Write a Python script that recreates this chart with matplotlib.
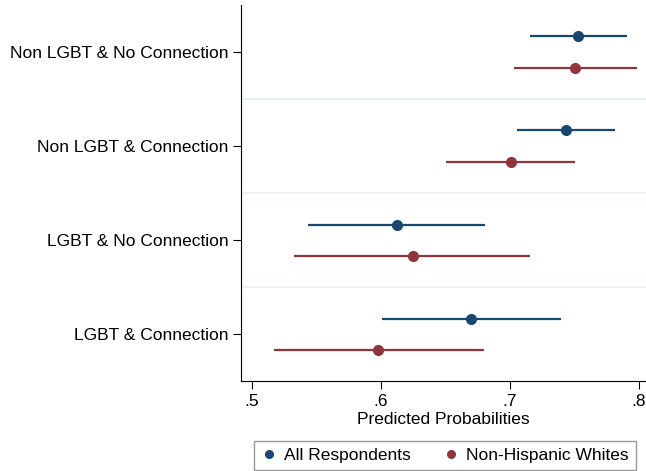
import matplotlib.pyplot as plt
from matplotlib.lines import Line2D

plt.rcParams["font.family"] = ["Liberation Sans", "DejaVu Sans"]

groups = ["Non LGBT & No Connection", "Non LGBT & Connection",
          "LGBT & No Connection", "LGBT & Connection"]
series = ["All Respondents", "Non-Hispanic Whites"]

all_est = [0.753, 0.744, 0.613, 0.670]
all_lo = [0.716, 0.706, 0.544, 0.601]
all_hi = [0.791, 0.782, 0.681, 0.740]

nhw_est = [0.751, 0.701, 0.625, 0.598]
nhw_lo = [0.703, 0.651, 0.533, 0.517]
nhw_hi = [0.799, 0.751, 0.716, 0.680]

xticks = [0.5, 0.6, 0.7, 0.8]
xticklabels = [".5", ".6", ".7", ".8"]

blue = "#1a476f"
red = "#90353b"

fig = plt.figure(figsize=(6.46, 4.71), dpi=100)
ax = fig.add_axes([0.373, 0.1904, 0.627, 0.799])

n = len(groups)
centers = [n - 1 - i for i in range(n)]
off = 1 / 6

for i, c in enumerate(centers):
  ax.plot([all_lo[i], all_hi[i]], [c + off] * 2, color=blue, lw=1.6, solid_capstyle="butt")
  ax.plot(all_est[i], c + off, "o", color=blue, ms=7)
  ax.plot([nhw_lo[i], nhw_hi[i]], [c - off] * 2, color=red, lw=1.6, solid_capstyle="butt")
  ax.plot(nhw_est[i], c - off, "o", color=red, ms=7)

for k in range(n - 1):
  ax.axhline(k + 0.5, color="#eaf2f3", lw=1.5, zorder=0)

ax.set_ylim(-0.5, n - 0.5)
ax.set_xlim(0.4917, 0.8057)
ax.set_yticks(centers)
ax.set_yticklabels(groups, fontsize=12.5)
ax.set_xticks(xticks)
ax.set_xticklabels(xticklabels, fontsize=12.5)
ax.set_xlabel("Predicted Probabilities", fontsize=12.5, labelpad=2)
ax.tick_params(axis="both", length=5.5, width=0.8, color="black")
for s in ["top", "right"]:
  ax.spines[s].set_visible(False)

handles = [Line2D([], [], marker="o", color=c, ls="none", ms=5.5) for c in (blue, red)]
fig.legend(handles, series, loc="lower center", bbox_to_anchor=(0.689, 0.0), ncol=2,
           fontsize=12.5, frameon=True, fancybox=False, edgecolor="#7f7f7f",
           handletextpad=0.4, columnspacing=1.9, borderpad=0.4, handlelength=0.9,
           borderaxespad=0.05)

fig.savefig("out.png", dpi=100)
